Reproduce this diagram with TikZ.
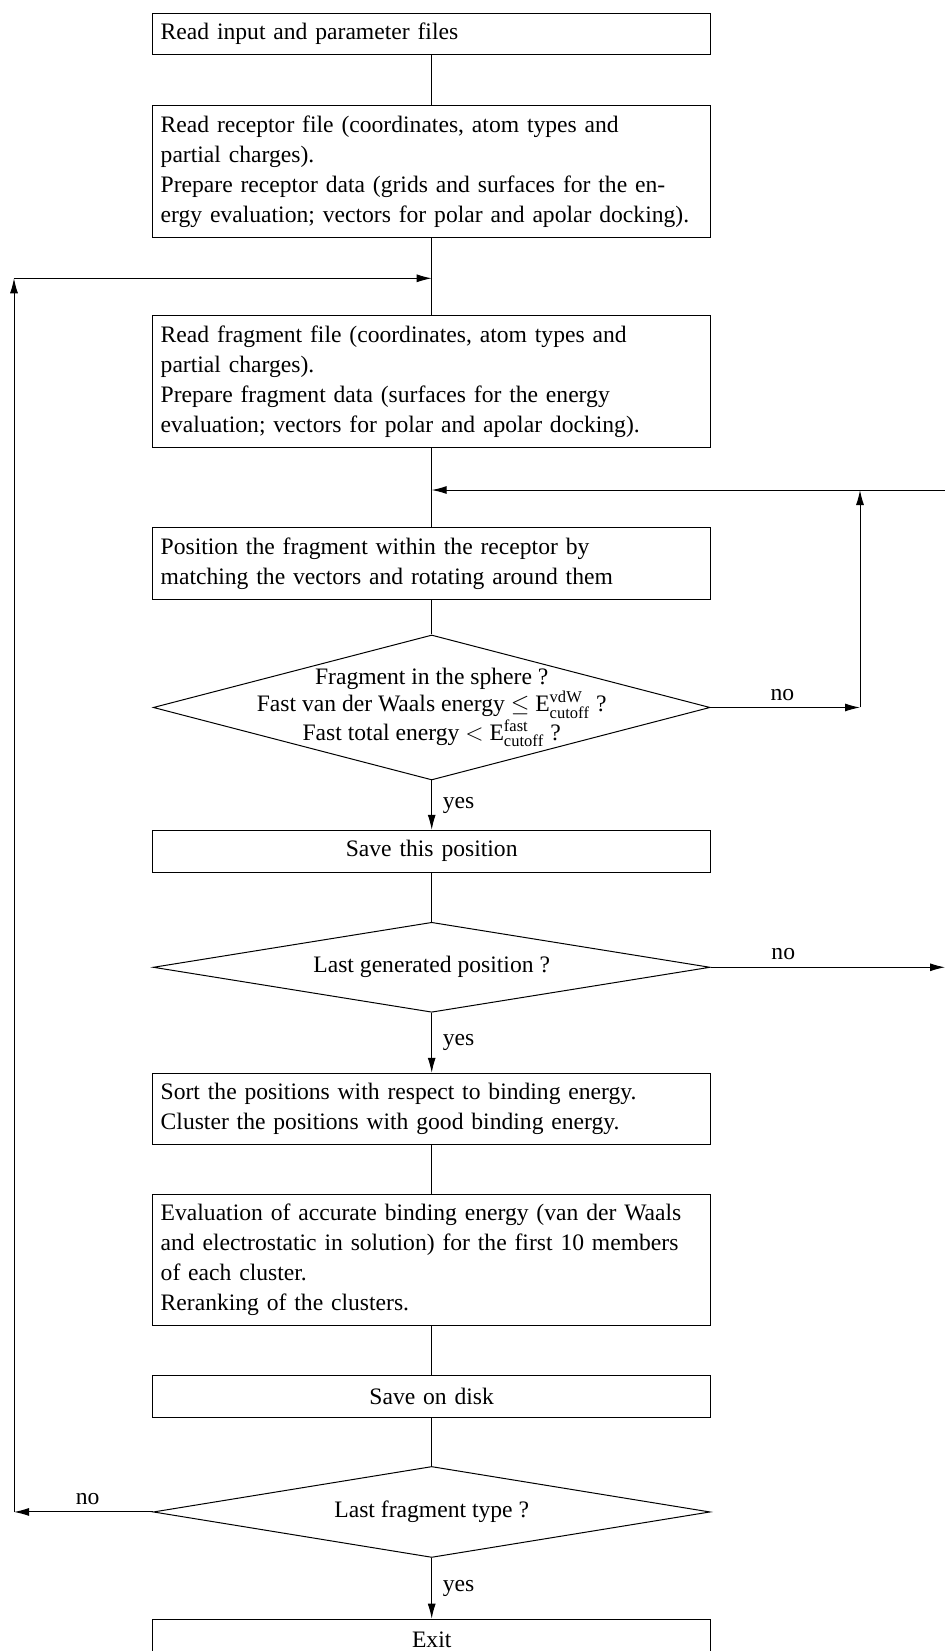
\documentclass[tikz,border=0pt]{standalone}
\usepackage{fontspec}
\setmainfont{Liberation Serif}
\usetikzlibrary{positioning,shapes.geometric,arrows.meta}

\begin{document}
\begin{tikzpicture}[auto,line width=0.5pt,
    every node/.style={font=\fontsize{11.8}{15}\selectfont},
    proc/.style={draw,text width=271pt,inner xsep=4pt,inner ysep=5pt,align=left},
    midproc/.style={proc,align=center,minimum height=21pt},
    decision/.style={draw,diamond,aspect=6,inner sep=0pt,minimum width=278.4pt},
    yes/.style={right,xshift=2pt}]
    \useasboundingbox (0,0) rectangle (472.5pt,-825.5pt);

    \node[proc,anchor=north] (readin) at (215.85pt,-6.35pt) {Read input and parameter files};
    \node[proc,below=24.85pt of readin] (receptor) {Read receptor file (coordinates, atom types and\\
        partial charges).\\ Prepare receptor data (grids and surfaces for the en-\\
        ergy evaluation; vectors for polar and apolar docking).};
    \node[proc,below=38.8pt of receptor] (fragment) {Read fragment file (coordinates, atom types and\\
        partial charges).\\ Prepare fragment data (surfaces for the energy\\
        evaluation; vectors for polar and apolar docking).};
    \node[proc,below=39.5pt of fragment] (place) {Position the fragment within the receptor by\\
        matching the vectors and rotating around them};
    \node[decision,minimum height=72.5pt,below=17.35pt of place,
        label={[align=center,font=\fontsize{11.8}{12}\selectfont]center:Fragment in the sphere ?\\
        Fast van der Waals energy $\leq$ $\mathrm{E}^{\mathrm{vdW}}_{\mathrm{cutoff}}$ ?\\
        Fast total energy $<$ $\mathrm{E}^{\mathrm{fast}}_{\mathrm{cutoff}}$ ?}] (inside) {};
    \node[midproc,below=24.65pt of inside] (save) {Save this position};
    \node[decision,minimum height=45pt,below=24.5pt of save] (lastpos) {Last generated position ?};
    \node[proc,below=30pt of lastpos] (sort) {Sort the positions with respect to binding energy.\\
        Cluster the positions with good binding energy.};
    \node[proc,below=24.2pt of sort] (rerank) {Evaluation of accurate binding energy (van der Waals\\
        and electrostatic in solution) for the first 10 members\\ of each cluster.\\
        Reranking of the clusters.};
    \node[midproc,below=24.15pt of rerank] (disk) {Save on disk};
    \node[decision,minimum height=45.5pt,below=24.15pt of disk] (lastfrag) {Last fragment type ?};
    \node[midproc,below=30.35pt of lastfrag] (exit) {Exit};

    \coordinate (loopup) at (7pt,-139.15pt);
    \coordinate (loopdown) at (lastfrag.west -| loopup);
    \coordinate (loopin) at (loopup -| readin.south);
    \coordinate (backup) at (430pt,-245pt);
    \coordinate (backdown) at (inside.east -| backup);
    \coordinate (backin) at (backup -| readin.south);
    \coordinate (edgeup) at (472.5pt,-245pt);
    \coordinate (edgedown) at (lastpos.east -| edgeup);

    \path (readin) edge (receptor)
          (receptor) edge (fragment)
          (fragment) edge (place)
          (place) edge (inside)
          (save) edge (lastpos)
          (sort) edge (rerank)
          (rerank) edge (disk)
          (disk) edge (lastfrag);
    \path[-{Latex[length=7.5pt,width=4pt]}] (inside) edge node[yes] {yes} (save)
                                           (lastpos) edge node[yes] {yes} (sort)
                                           (lastfrag) edge node[yes] {yes} (exit)
                                           (inside.east) edge node[above,pos=0.48] {no} (backdown)
                                           (backdown) edge (backup)
                                           (edgeup) edge (backin)
                                           (lastpos.east) edge node[above,pos=0.31] {no} (edgedown)
                                           (lastfrag.west) edge node[above,pos=0.47] {no} (loopdown)
                                           (loopdown) edge (loopup)
                                           (loopup) edge (loopin);
  \end{tikzpicture}
\end{document}
